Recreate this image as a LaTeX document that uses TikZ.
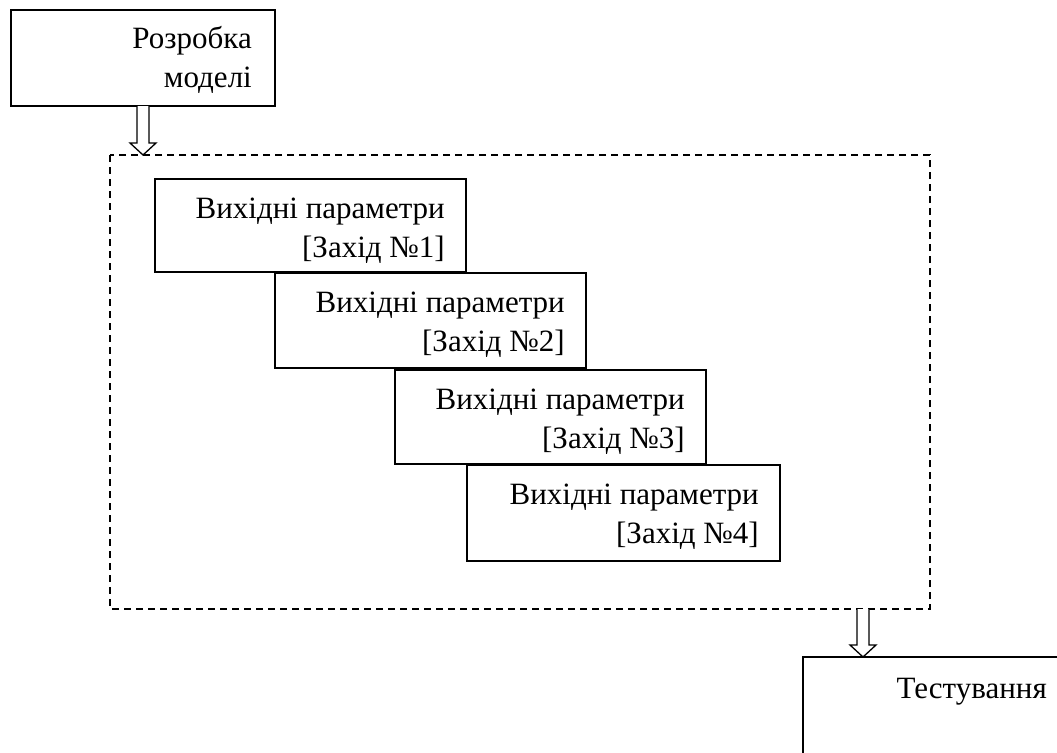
\documentclass[tikz,border=0pt]{standalone}
\usepackage{fontspec}
\setmainfont{Liberation Serif}
\usetikzlibrary{calc}
\begin{document}
\begin{tikzpicture}[x=1pt,y=-1pt,
  box/.style={draw,line width=1.4pt,fill=white,inner sep=0pt,outer sep=0pt},
  frame/.style={draw,line width=1.4pt,dash pattern=on 7pt off 5pt},
  lbl/.style={anchor=base east,inner sep=0pt,font=\fontsize{31}{39}\selectfont,align=right},
  blockarrow/.style={draw,line width=1.3pt,fill=white,line join=miter}
]
\useasboundingbox (0,0) rectangle (1057,752);
% boxes
\node[box,minimum width=264pt,minimum height=96pt,anchor=north west] (M) at (11,10) {};
\node[lbl] (Mt) at ($(M.north east)+(-23,77)$) {Розробка\\моделі};
\coordinate (F1) at (110,155);
\coordinate (F2) at (930,609);
\draw[frame] (F1) rectangle (F2);
\node[box,minimum width=311pt,minimum height=93pt,anchor=north west] (A) at (155,179) {};
\node[box,minimum width=311pt,minimum height=95pt,anchor=north west] (B) at (275,273) {};
\node[box,minimum width=311pt,minimum height=94pt,anchor=north west] (C) at (395,370) {};
\node[box,minimum width=313pt,minimum height=96pt,anchor=north west] (D) at (467,465) {};
\node[lbl] at ($(A.north east)+(-21,78)$) {Вихідні параметри\\{[Захід №1]}};
\node[lbl] at ($(B.north east)+(-21,78)$) {Вихідні параметри\\{[Захід №2]}};
\node[lbl] at ($(C.north east)+(-21,78)$) {Вихідні параметри\\{[Захід №3]}};
\node[lbl] at ($(D.north east)+(-21,78)$) {Вихідні параметри\\{[Захід №4]}};
\node[box,minimum width=280pt,minimum height=120pt,anchor=north west] (T) at (803,657) {};
\node[lbl] at (1047,698) {Тестування};
% block arrows
\coordinate (a1) at (M.south);
\coordinate (a1t) at (a1 |- F1);
\draw[blockarrow] ($(a1)+(-6,0)$) -- ($(a1t)+(-6,-12)$) -- ($(a1t)+(-13,-12)$) -- (a1t)
  -- ($(a1t)+(13,-12)$) -- ($(a1t)+(6,-12)$) -- ($(a1)+(6,0)$);
\coordinate (a2) at (863,609);
\coordinate (a2t) at (a2 |- T.north);
\draw[blockarrow] ($(a2)+(-6,0)$) -- ($(a2t)+(-6,-12)$) -- ($(a2t)+(-13,-12)$) -- (a2t)
  -- ($(a2t)+(13,-12)$) -- ($(a2t)+(6,-12)$) -- ($(a2)+(6,0)$);
\end{tikzpicture}
\end{document}
